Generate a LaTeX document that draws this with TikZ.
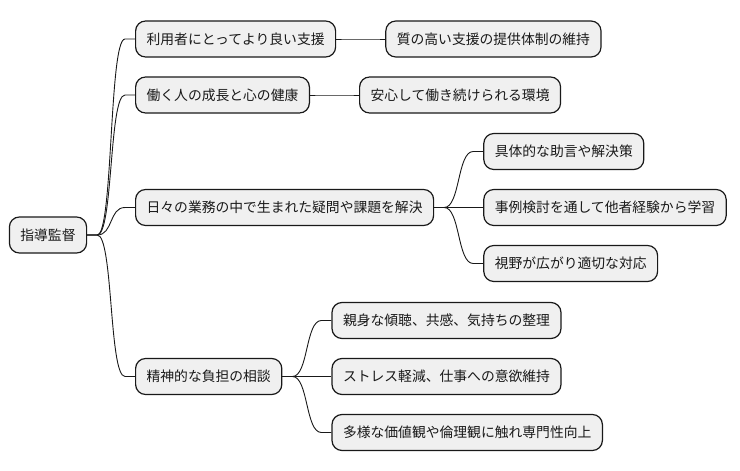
\documentclass[tikz,border=0pt]{standalone}
\usepackage{fontspec}
\newfontfamily\jp{Noto Sans CJK JP}
\begin{document}
\begin{tikzpicture}[x=1pt,y=1pt,
  box/.style={draw=black!90, line width=1.2pt, fill=black!6, rounded corners=10pt,
    minimum height=36pt, inner xsep=11pt, inner ysep=0pt, font=\jp\fontsize{13.8}{16}\selectfont,
    anchor=west, text=black!90},
  edge/.style={draw=black!90, line width=0.9pt}]
\useasboundingbox (0,0) rectangle (740,-471);
\newcommand{\conn}[2]{\draw[edge] (#1.east) -- ++(10,0) .. controls +(16,0) and +(-16,0) .. ([xshift=-10pt]#2.west) -- (#2.west);}
\node[box, minimum width=76pt, anchor=center] (r) at (48,-235) {指導監督};
\node[box] (a) at (135,-39) {利用者にとってより良い支援};
\node[box] (b) at (135,-95) {働く人の成長と心の健康};
\node[box] (c) at (135,-207.5) {日々の業務の中で生まれた疑問や課題を解決};
\node[box] (d) at (135,-376.5) {精神的な負担の相談};
\node[box, xshift=49pt] (a1) at (a.east) {質の高い支援の提供体制の維持};
\node[box, xshift=49pt] (b1) at (b.east) {安心して働き続けられる環境};
\node[box, xshift=49pt, yshift=56pt] (c1) at (c.east) {具体的な助言や解決策};
\node[box, xshift=49pt] (c2) at (c.east) {事例検討を通して他者経験から学習};
\node[box, xshift=49pt, yshift=-56pt] (c3) at (c.east) {視野が広がり適切な対応};
\node[box, xshift=49pt, yshift=56pt] (d1) at (d.east) {親身な傾聴、共感、気持ちの整理};
\node[box, xshift=49pt] (d2) at (d.east) {ストレス軽減、仕事への意欲維持};
\node[box, xshift=49pt, yshift=-56pt] (d3) at (d.east) {多様な価値観や倫理観に触れ専門性向上};
\conn{r}{a}\conn{r}{b}\conn{r}{c}\conn{r}{d}
\conn{a}{a1}\conn{b}{b1}
\conn{c}{c1}\conn{c}{c2}\conn{c}{c3}
\conn{d}{d1}\conn{d}{d2}\conn{d}{d3}
\end{tikzpicture}
\end{document}
